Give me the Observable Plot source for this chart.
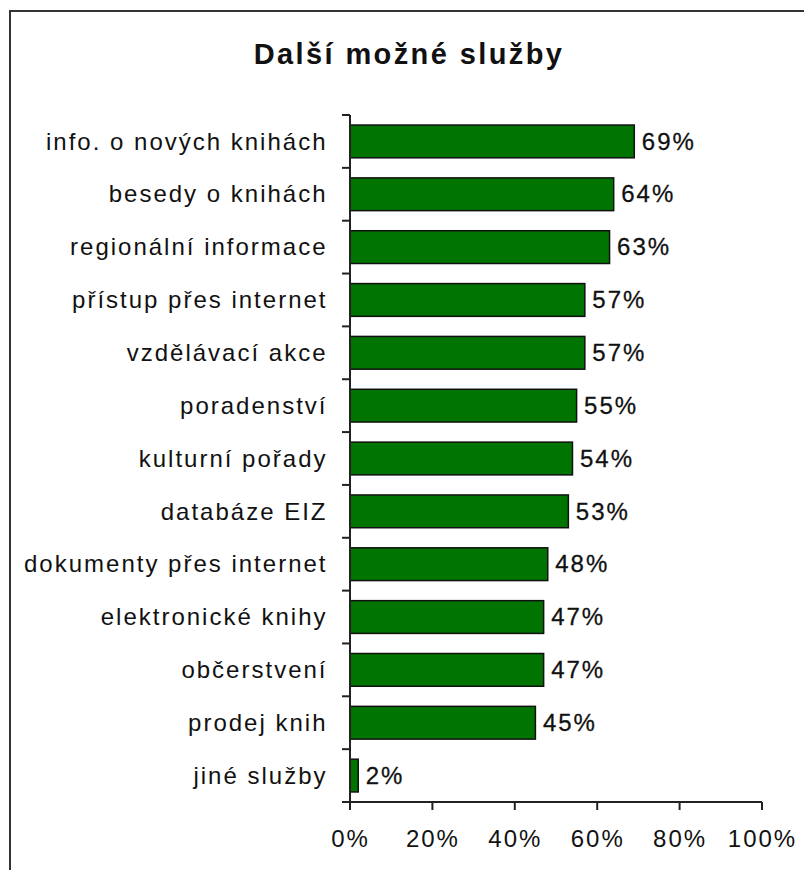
<!DOCTYPE html>
<html>
<head>
<meta charset="utf-8">
<script src="https://cdn.jsdelivr.net/npm/d3@7"></script>
<script src="https://cdn.jsdelivr.net/npm/@observablehq/plot@0.6"></script>
<style>
  html, body { margin: 0; padding: 0; background: #fff; }
  #wrap { position: relative; width: 804px; height: 870px; overflow: hidden; background: #fff; }
  #frame { position: absolute; left: 9px; top: 10px; width: 900px; height: 900px;
           border-left: 2px solid #333; border-top: 2px solid #333; box-sizing: border-box; }
  #title { position: absolute; left: 0; top: 40px; width: 818px; text-align: center;
           font-family: "Liberation Sans", Arial, sans-serif; font-weight: bold; font-size: 29px;
           line-height: 29px; letter-spacing: 2.4px; color: #111; }
  #chart { position: absolute; left: 0; top: 100px; }
</style>
</head>
<body>
<div id="wrap">
  <div id="frame"></div>
  <div id="title">Další možné služby</div>
  <div id="chart"></div>
</div>
<script>
const titleText = "Další možné služby";
const categories = [
  "info. o nových knihách",
  "besedy o knihách",
  "regionální informace",
  "přístup přes internet",
  "vzdělávací akce",
  "poradenství",
  "kulturní pořady",
  "databáze EIZ",
  "dokumenty přes internet",
  "elektronické knihy",
  "občerstvení",
  "prodej knih",
  "jiné služby"
];
const values = [69, 64, 63, 57, 57, 55, 54, 53, 48, 47, 47, 45, 2];
const xTicks = [0, 20, 40, 60, 80, 100];
const xTickLabels = ["0%", "20%", "40%", "60%", "80%", "100%"];

document.getElementById("title").textContent = titleText;

const data = categories.map((c, i) => ({cat: c, v: values[i]}));

function axisLines(...args) {
  const scales = args.find(a => a && typeof a.x === "function" && typeof a.y === "function");
  const x = scales.x, y = scales.y;
  const step = typeof y.step === "function" ? y.step() : scales.scales.y.step;
  const bw = typeof y.bandwidth === "function" ? y.bandwidth() : scales.scales.y.bandwidth;
  const x0 = x(0), x1 = x(100);
  const bounds = categories.map(c => y(c) + bw / 2 - step / 2);
  bounds.push(bounds[bounds.length - 1] + step);
  const top = bounds[0], bottom = bounds[bounds.length - 1];
  const g = d3.create("svg:g").attr("stroke", "#222").attr("stroke-width", 2).attr("fill", "none");
  g.append("line").attr("x1", x0).attr("x2", x0).attr("y1", top).attr("y2", bottom + 8);
  g.append("line").attr("x1", x0).attr("x2", x1).attr("y1", bottom).attr("y2", bottom);
  for (const b of bounds) {
    g.append("line").attr("x1", x0 - 8).attr("x2", x0).attr("y1", b).attr("y2", b);
  }
  for (const t of xTicks) {
    g.append("line").attr("x1", x(t)).attr("x2", x(t)).attr("y1", bottom).attr("y2", bottom + 8);
  }
  return g.node();
}

const chart = Plot.plot({
  width: 804,
  height: 770,
  marginTop: 15,
  marginBottom: 68,
  marginLeft: 350,
  marginRight: 42,
  style: {
    fontFamily: "'Liberation Sans', Arial, sans-serif",
    fontSize: "24px",
    letterSpacing: "2px",
    color: "#111",
    background: "transparent",
    overflow: "visible"
  },
  x: {domain: [0, 100], label: null},
  y: {domain: categories, label: null, paddingInner: 0.38, paddingOuter: 0.19, round: false},
  marks: [
    Plot.barX(data, {x1: 0, x2: "v", y: "cat", fill: "#007400", stroke: "#111", strokeWidth: 1.5}),
    Plot.text(data, {x: "v", y: "cat", text: d => d.v + "%", textAnchor: "start", dx: 7, fill: "#111", stroke: "#111", strokeWidth: 0.3}),
    Plot.axisY({tickSize: 0, tickPadding: 23, label: null, stroke: "#111", strokeWidth: 0.3}),
    Plot.axisX({ticks: xTicks, tickFormat: (d) => xTickLabels[xTicks.indexOf(d)], tickSize: 0, tickPadding: 27, label: null, stroke: "#111", strokeWidth: 0.3}),
    axisLines
  ]
});
document.getElementById("chart").appendChild(chart);
</script>
</body>
</html>
